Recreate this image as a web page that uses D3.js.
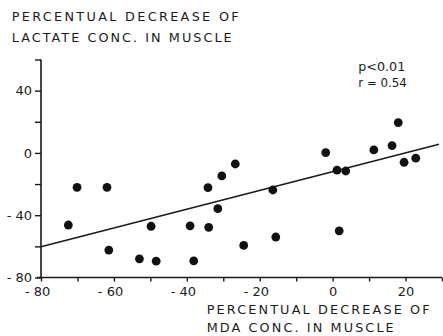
<!DOCTYPE html>
<html>
<head>
<meta charset="utf-8">
<script src="https://cdn.jsdelivr.net/npm/d3@7"></script>
<style>
  html, body { margin: 0; padding: 0; background: #ffffff; }
  svg { display: block; }
  text { font-family: "DejaVu Sans", sans-serif; fill: #1c1c1c; }
</style>
</head>
<body>
<svg id="chart" width="443" height="336"></svg>
<script>
// MDA decrease (%) vs lactate decrease (%)
const mdaDecrease = [-72.5, -70.1, -61.9, -61.4, -53.0, -49.8, -48.4, -39.1, -38.1, -34.2, -34.0, -31.5, -30.4, -26.7, -24.4, -16.4, -15.6, -1.9, 1.2, 1.8, 3.6, 11.3, 16.3, 18.0, 19.6, 22.8];
const lactateDecrease = [-46.3, -22.1, -22.1, -62.4, -68.0, -47.1, -69.5, -46.8, -69.3, -22.3, -47.8, -35.8, -14.8, -7.1, -59.4, -23.8, -54.0, 0.2, -11.1, -50.0, -11.6, 1.9, 4.7, 19.5, -6.0, -3.4];
// regression line end points (x, y)
const lineX = [-80, 29.2];
const lineY = [-60.3, 5.6];
const xTicks = [-80, -70, -60, -50, -40, -30, -20, -10, 0, 10, 20, 30];
const xLabels = [-80, -60, -40, -20, 0, 20];
const yTicks = [-80, -60, -40, -20, 0, 20, 40, 60];
const yLabels = [-80, -40, 0, 40];
const titleLines = ["PERCENTUAL DECREASE OF", "LACTATE CONC. IN MUSCLE"];
const xTitleLines = ["PERCENTUAL DECREASE OF", "MDA CONC. IN MUSCLE"];
const statLines = ["p<0.01", "r = 0.54"];

const svg = d3.select("#chart");
const ink = "#1a1a1a";

const x = d3.scaleLinear().domain([-80, 30]).range([41, 442]);
const y = d3.scaleLinear().domain([-80, 60]).range([277.5, 59.5]);

const fmt = d => (d < 0 ? "- " + Math.abs(d) : String(d));

// y axis
const yAxis = svg.append("g")
  .attr("transform", `translate(${x(-80)},0)`)
  .call(d3.axisLeft(y).tickValues(yTicks).tickSize(6).tickPadding(3)
    .tickFormat(d => yLabels.includes(d) ? fmt(d) : ""));
yAxis.select(".domain").attr("stroke", ink).attr("stroke-width", 1.6).attr("d", `M0,${y(60)}V${y(-80)}`);
yAxis.selectAll(".tick line").attr("stroke", ink).attr("stroke-width", 1.4);
yAxis.selectAll(".tick text").style("font-size", "13px").attr("fill", "#1c1c1c").attr("font-family", "DejaVu Sans");

// x axis
const xAxis = svg.append("g")
  .attr("transform", `translate(0,${y(-80)})`)
  .call(d3.axisBottom(x).tickValues(xTicks).tickSize(4).tickPadding(5)
    .tickFormat(d => xLabels.includes(d) ? fmt(d) : ""));
xAxis.select(".domain").attr("stroke", ink).attr("stroke-width", 1.6).attr("d", `M${x(-80) - 4},0H${x(30)}`);
xAxis.selectAll(".tick line").attr("stroke", ink).attr("stroke-width", 1.4);
xAxis.selectAll(".tick text").style("font-size", "13px").attr("fill", "#1c1c1c").attr("font-family", "DejaVu Sans")
  .attr("dx", d => d < 0 ? "-0.3em" : 0);

// regression line
svg.append("line")
  .attr("x1", x(lineX[0])).attr("y1", y(lineY[0]))
  .attr("x2", x(lineX[1])).attr("y2", y(lineY[1]))
  .attr("stroke", ink).attr("stroke-width", 1.5);

// points
svg.append("g").selectAll("circle")
  .data(mdaDecrease.map((v, i) => [v, lactateDecrease[i]]))
  .join("circle")
  .attr("cx", d => x(d[0])).attr("cy", d => y(d[1]))
  .attr("r", 4.4).attr("fill", "#111");

// titles
const tl = [227, 220];
titleLines.forEach((t, i) => {
  svg.append("text").attr("x", 11.7).attr("y", 21 + i * 20.5)
    .attr("textLength", tl[i]).attr("lengthAdjust", "spacing")
    .style("font-size", "12.8px").text(t);
});
const xtl = [223, 187];
xTitleLines.forEach((t, i) => {
  svg.append("text").attr("x", 206.7).attr("y", 314 + i * 17.7)
    .attr("textLength", xtl[i]).attr("lengthAdjust", "spacing")
    .style("font-size", "12.8px").text(t);
});
const sl = [47, 48.5];
statLines.forEach((t, i) => {
  svg.append("text").attr("x", 358.3).attr("y", 71 + i * 16)
    .attr("textLength", sl[i]).attr("lengthAdjust", "spacingAndGlyphs")
    .style("font-size", "12.5px").text(t);
});
</script>
</body>
</html>
